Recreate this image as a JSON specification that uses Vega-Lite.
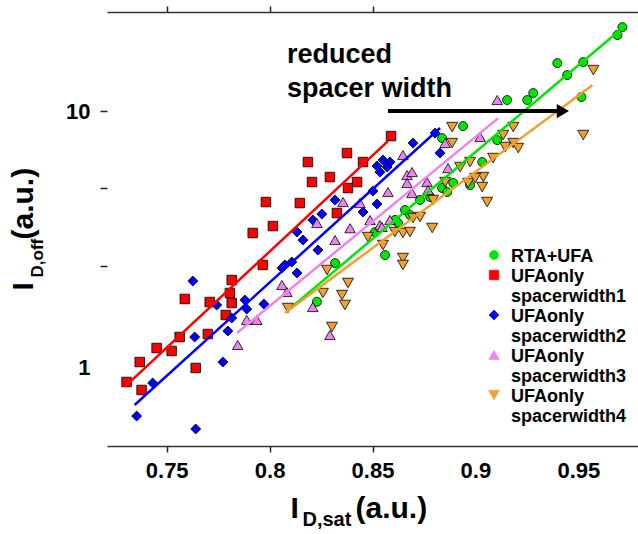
{
  "$schema": "https://vega.github.io/schema/vega-lite/v6.json",
  "width": 531,
  "height": 434,
  "autosize": {"type": "none"},
  "padding": {"left": 107, "top": 12, "right": 0, "bottom": 88},
  "background": "white",
  "config": {
    "view": {"stroke": null},
    "font": "Liberation Sans",
    "axis": {"grid": false, "labelFont": "Liberation Sans", "labelFontSize": 22, "labelFontWeight": "bold", "labelColor": "black", "titleFont": "Liberation Sans", "titleFontWeight": "bold", "titleColor": "black", "tickColor": "#222", "domainColor": "#333", "tickWidth": 1.5, "domainWidth": 1.5, "tickSize": 6}
  },
  "datasets": {
    "pts": [
      {"s": "RTA+UFA", "x": 0.9714, "y": 21.22}, {"s": "RTA+UFA", "x": 0.9690, "y": 19.76}, {"s": "RTA+UFA", "x": 0.9524, "y": 15.51}, {"s": "RTA+UFA", "x": 0.9398, "y": 15.37}, {"s": "RTA+UFA", "x": 0.9446, "y": 13.81}, {"s": "RTA+UFA", "x": 0.9281, "y": 11.75}, {"s": "RTA+UFA", "x": 0.9252, "y": 11.04}, {"s": "RTA+UFA", "x": 0.9154, "y": 11.04}, {"s": "RTA+UFA", "x": 0.9515, "y": 11.34}, {"s": "RTA+UFA", "x": 0.8940, "y": 8.74}, {"s": "RTA+UFA", "x": 0.8838, "y": 7.85}, {"s": "RTA+UFA", "x": 0.9106, "y": 7.71}, {"s": "RTA+UFA", "x": 0.9033, "y": 6.33}, {"s": "RTA+UFA", "x": 0.8974, "y": 5.15}, {"s": "RTA+UFA", "x": 0.8838, "y": 5.02}, {"s": "RTA+UFA", "x": 0.8863, "y": 4.84}, {"s": "RTA+UFA", "x": 0.8892, "y": 5.25}, {"s": "RTA+UFA", "x": 0.8658, "y": 4.12}, {"s": "RTA+UFA", "x": 0.8610, "y": 3.77}, {"s": "RTA+UFA", "x": 0.8624, "y": 3.67}, {"s": "RTA+UFA", "x": 0.8561, "y": 2.75}, {"s": "RTA+UFA", "x": 0.8318, "y": 2.56}, {"s": "RTA+UFA", "x": 0.8230, "y": 1.81}, {"s": "RTA+UFA", "x": 0.8731, "y": 4.51}, {"s": "RTA+UFA", "x": 0.8512, "y": 3.38}, {"s": "RTA+UFA", "x": 0.8780, "y": 4.63}, {"s": "RTA+UFA", "x": 0.8682, "y": 3.94},
      {"s": "UFAonly spacerwidth1", "x": 0.7305, "y": 0.882}, {"s": "UFAonly spacerwidth1", "x": 0.7378, "y": 0.821}, {"s": "UFAonly spacerwidth1", "x": 0.7369, "y": 1.055}, {"s": "UFAonly spacerwidth1", "x": 0.7451, "y": 1.196}, {"s": "UFAonly spacerwidth1", "x": 0.7524, "y": 1.165}, {"s": "UFAonly spacerwidth1", "x": 0.7563, "y": 1.32}, {"s": "UFAonly spacerwidth1", "x": 0.7641, "y": 1.0}, {"s": "UFAonly spacerwidth1", "x": 0.7588, "y": 1.856}, {"s": "UFAonly spacerwidth1", "x": 0.7700, "y": 1.356}, {"s": "UFAonly spacerwidth1", "x": 0.7709, "y": 1.806}, {"s": "UFAonly spacerwidth1", "x": 0.7816, "y": 2.2}, {"s": "UFAonly spacerwidth1", "x": 0.7807, "y": 1.958}, {"s": "UFAonly spacerwidth1", "x": 0.7816, "y": 1.79}, {"s": "UFAonly spacerwidth1", "x": 0.7787, "y": 1.608}, {"s": "UFAonly spacerwidth1", "x": 0.7967, "y": 2.517}, {"s": "UFAonly spacerwidth1", "x": 0.7918, "y": 3.352}, {"s": "UFAonly spacerwidth1", "x": 0.8016, "y": 3.568}, {"s": "UFAonly spacerwidth1", "x": 0.7982, "y": 4.425}, {"s": "UFAonly spacerwidth1", "x": 0.8147, "y": 4.385}, {"s": "UFAonly spacerwidth1", "x": 0.8206, "y": 5.293}, {"s": "UFAonly spacerwidth1", "x": 0.8293, "y": 5.536}, {"s": "UFAonly spacerwidth1", "x": 0.8186, "y": 6.333}, {"s": "UFAonly spacerwidth1", "x": 0.8381, "y": 5.016}, {"s": "UFAonly spacerwidth1", "x": 0.8425, "y": 5.293}, {"s": "UFAonly spacerwidth1", "x": 0.8376, "y": 6.864}, {"s": "UFAonly spacerwidth1", "x": 0.8454, "y": 6.333}, {"s": "UFAonly spacerwidth1", "x": 0.8590, "y": 7.993}, {"s": "UFAonly spacerwidth1", "x": 0.8327, "y": 4.01},
      {"s": "UFAonly spacerwidth2", "x": 0.7354, "y": 0.65}, {"s": "UFAonly spacerwidth2", "x": 0.7641, "y": 0.579}, {"s": "UFAonly spacerwidth2", "x": 0.7432, "y": 0.874}, {"s": "UFAonly spacerwidth2", "x": 0.7636, "y": 1.32}, {"s": "UFAonly spacerwidth2", "x": 0.7627, "y": 2.18}, {"s": "UFAonly spacerwidth2", "x": 0.7773, "y": 1.055}, {"s": "UFAonly spacerwidth2", "x": 0.7797, "y": 1.393}, {"s": "UFAonly spacerwidth2", "x": 0.7816, "y": 1.565}, {"s": "UFAonly spacerwidth2", "x": 0.7880, "y": 1.839}, {"s": "UFAonly spacerwidth2", "x": 0.7889, "y": 1.696}, {"s": "UFAonly spacerwidth2", "x": 0.7972, "y": 1.774}, {"s": "UFAonly spacerwidth2", "x": 0.8060, "y": 2.449}, {"s": "UFAonly spacerwidth2", "x": 0.8108, "y": 2.585}, {"s": "UFAonly spacerwidth2", "x": 0.8133, "y": 2.342}, {"s": "UFAonly spacerwidth2", "x": 0.8235, "y": 2.878}, {"s": "UFAonly spacerwidth2", "x": 0.7743, "y": 1.759}, {"s": "UFAonly spacerwidth2", "x": 0.8074, "y": 2.517}, {"s": "UFAonly spacerwidth2", "x": 0.8162, "y": 3.148}, {"s": "UFAonly spacerwidth2", "x": 0.8133, "y": 3.382}, {"s": "UFAonly spacerwidth2", "x": 0.8210, "y": 3.766}, {"s": "UFAonly spacerwidth2", "x": 0.8254, "y": 3.974}, {"s": "UFAonly spacerwidth2", "x": 0.8318, "y": 4.505}, {"s": "UFAonly spacerwidth2", "x": 0.8454, "y": 4.046}, {"s": "UFAonly spacerwidth2", "x": 0.8522, "y": 4.347}, {"s": "UFAonly spacerwidth2", "x": 0.8502, "y": 4.883}, {"s": "UFAonly spacerwidth2", "x": 0.8536, "y": 5.789}, {"s": "UFAonly spacerwidth2", "x": 0.8522, "y": 6.109}, {"s": "UFAonly spacerwidth2", "x": 0.8571, "y": 6.055}, {"s": "UFAonly spacerwidth2", "x": 0.8551, "y": 6.447}, {"s": "UFAonly spacerwidth2", "x": 0.8585, "y": 6.333}, {"s": "UFAonly spacerwidth2", "x": 0.8697, "y": 7.506}, {"s": "UFAonly spacerwidth2", "x": 0.8804, "y": 8.211}, {"s": "UFAonly spacerwidth2", "x": 0.8828, "y": 6.864},
      {"s": "UFAonly spacerwidth3", "x": 0.7845, "y": 1.229}, {"s": "UFAonly spacerwidth3", "x": 0.7889, "y": 1.538}, {"s": "UFAonly spacerwidth3", "x": 0.7938, "y": 1.538}, {"s": "UFAonly spacerwidth3", "x": 0.8060, "y": 2.104}, {"s": "UFAonly spacerwidth3", "x": 0.8084, "y": 1.976}, {"s": "UFAonly spacerwidth3", "x": 0.8210, "y": 1.727}, {"s": "UFAonly spacerwidth3", "x": 0.8293, "y": 1.344}, {"s": "UFAonly spacerwidth3", "x": 0.8230, "y": 3.666}, {"s": "UFAonly spacerwidth3", "x": 0.8318, "y": 3.148}, {"s": "UFAonly spacerwidth3", "x": 0.8357, "y": 4.425}, {"s": "UFAonly spacerwidth3", "x": 0.8439, "y": 4.385}, {"s": "UFAonly spacerwidth3", "x": 0.8391, "y": 3.5}, {"s": "UFAonly spacerwidth3", "x": 0.8488, "y": 3.766}, {"s": "UFAonly spacerwidth3", "x": 0.8536, "y": 3.601}, {"s": "UFAonly spacerwidth3", "x": 0.8575, "y": 4.84}, {"s": "UFAonly spacerwidth3", "x": 0.8648, "y": 6.743}, {"s": "UFAonly spacerwidth3", "x": 0.8668, "y": 5.636}, {"s": "UFAonly spacerwidth3", "x": 0.8692, "y": 5.789}, {"s": "UFAonly spacerwidth3", "x": 0.8668, "y": 5.246}, {"s": "UFAonly spacerwidth3", "x": 0.8692, "y": 4.797}, {"s": "UFAonly spacerwidth3", "x": 0.8765, "y": 5.293}, {"s": "UFAonly spacerwidth3", "x": 0.8770, "y": 4.927}, {"s": "UFAonly spacerwidth3", "x": 0.8585, "y": 3.766}, {"s": "UFAonly spacerwidth3", "x": 0.8546, "y": 3.538}, {"s": "UFAonly spacerwidth3", "x": 0.8867, "y": 6.0}, {"s": "UFAonly spacerwidth3", "x": 0.8853, "y": 7.506}, {"s": "UFAonly spacerwidth3", "x": 0.9023, "y": 7.922}, {"s": "UFAonly spacerwidth3", "x": 0.9106, "y": 11.04},
      {"s": "UFAonly spacerwidth4", "x": 0.9573, "y": 14.44}, {"s": "UFAonly spacerwidth4", "x": 0.9524, "y": 8.065}, {"s": "UFAonly spacerwidth4", "x": 0.9184, "y": 8.663}, {"s": "UFAonly spacerwidth4", "x": 0.9135, "y": 8.065}, {"s": "UFAonly spacerwidth4", "x": 0.9184, "y": 7.506}, {"s": "UFAonly spacerwidth4", "x": 0.9208, "y": 7.178}, {"s": "UFAonly spacerwidth4", "x": 0.9145, "y": 7.243}, {"s": "UFAonly spacerwidth4", "x": 0.9086, "y": 6.564}, {"s": "UFAonly spacerwidth4", "x": 0.8974, "y": 6.333}, {"s": "UFAonly spacerwidth4", "x": 0.8926, "y": 6.055}, {"s": "UFAonly spacerwidth4", "x": 0.9038, "y": 5.536}, {"s": "UFAonly spacerwidth4", "x": 0.8965, "y": 5.246}, {"s": "UFAonly spacerwidth4", "x": 0.8887, "y": 7.506}, {"s": "UFAonly spacerwidth4", "x": 0.8887, "y": 8.663}, {"s": "UFAonly spacerwidth4", "x": 0.8853, "y": 5.293}, {"s": "UFAonly spacerwidth4", "x": 0.8999, "y": 5.486}, {"s": "UFAonly spacerwidth4", "x": 0.9033, "y": 5.062}, {"s": "UFAonly spacerwidth4", "x": 0.9057, "y": 4.425}, {"s": "UFAonly spacerwidth4", "x": 0.8794, "y": 4.505}, {"s": "UFAonly spacerwidth4", "x": 0.8697, "y": 3.834}, {"s": "UFAonly spacerwidth4", "x": 0.8790, "y": 3.506}, {"s": "UFAonly spacerwidth4", "x": 0.8609, "y": 3.382}, {"s": "UFAonly spacerwidth4", "x": 0.8648, "y": 3.352}, {"s": "UFAonly spacerwidth4", "x": 0.8682, "y": 3.382}, {"s": "UFAonly spacerwidth4", "x": 0.8551, "y": 3.01}, {"s": "UFAonly spacerwidth4", "x": 0.8648, "y": 2.679}, {"s": "UFAonly spacerwidth4", "x": 0.8648, "y": 2.517}, {"s": "UFAonly spacerwidth4", "x": 0.8478, "y": 3.233}, {"s": "UFAonly spacerwidth4", "x": 0.8381, "y": 2.142}, {"s": "UFAonly spacerwidth4", "x": 0.8279, "y": 2.406}, {"s": "UFAonly spacerwidth4", "x": 0.8259, "y": 1.958}, {"s": "UFAonly spacerwidth4", "x": 0.8352, "y": 1.923}, {"s": "UFAonly spacerwidth4", "x": 0.8366, "y": 1.759}, {"s": "UFAonly spacerwidth4", "x": 0.8089, "y": 1.712}, {"s": "UFAonly spacerwidth4", "x": 0.8303, "y": 1.444}, {"s": "UFAonly spacerwidth4", "x": 0.8731, "y": 3.868}
    ],
    "fits": [
      {"s": "UFAonly spacerwidth1", "x": 0.7296, "y": 0.844}, {"s": "UFAonly spacerwidth1", "x": 0.8575, "y": 7.64},
      {"s": "UFAonly spacerwidth2", "x": 0.7344, "y": 0.718}, {"s": "UFAonly spacerwidth2", "x": 0.8828, "y": 8.59},
      {"s": "UFAonly spacerwidth3", "x": 0.7841, "y": 1.368}, {"s": "UFAonly spacerwidth3", "x": 0.9111, "y": 9.39},
      {"s": "RTA+UFA", "x": 0.8108, "y": 1.727}, {"s": "RTA+UFA", "x": 0.9719, "y": 21.2},
      {"s": "UFAonly spacerwidth4", "x": 0.8074, "y": 1.637}, {"s": "UFAonly spacerwidth4", "x": 0.9568, "y": 12.6}
    ],
    "arrow": [{"x": 0.8575, "x2": 0.9412, "xh": 0.9425, "y": 10.0}],
    "notes": [{"x": 0.8084, "y": 15.4, "t": "reduced"}, {"x": 0.8084, "y": 11.34, "t": "spacer width"}]
  },
  "resolve": {"axis": {"x": "independent", "y": "independent"}},
  "layer": [
    {
      "data": {"name": "pts"},
      "mark": {"type": "point", "filled": true, "opacity": 1, "stroke": "black", "strokeWidth": 0.8},
      "encoding": {
        "x": {"field": "x", "type": "quantitative", "scale": {"domain": [0.721, 0.979], "nice": false, "zero": false},
              "axis": {"orient": "top", "values": [0.75, 0.8, 0.85], "labels": false, "title": null, "tickSize": 6}},
        "y": {"field": "y", "type": "quantitative", "scale": {"type": "log", "domain": [0.497, 24.3], "nice": false},
              "axis": {"orient": "left", "title": "D,off", "ticks": false, "labels": false, "domain": false, "titleX": -65, "titleY": 265, "titleAngle": 270, "titleAlign": "left", "titleBaseline": "alphabetic", "titleFontSize": 17}},
        "color": {"field": "s", "type": "nominal",
                  "scale": {"domain": ["RTA+UFA", "UFAonly spacerwidth1", "UFAonly spacerwidth2", "UFAonly spacerwidth3", "UFAonly spacerwidth4"], "range": ["#00E600", "#FF0000", "#0000FF", "#EE82EE", "#F0A030"]},
                  "legend": {"orient": "none", "legendX": 378, "legendY": 234, "title": null, "padding": 0, "labelFont": "Liberation Sans", "labelFontSize": 18, "labelFontWeight": "bold", "labelColor": "black", "labelBaseline": "top", "labelOffset": 8, "labelLimit": 300, "symbolSize": 60, "symbolStrokeColor": "black", "symbolStrokeWidth": 0.6, "rowPadding": -1,
                             "labelExpr": "datum.label == 'RTA+UFA' ? datum.label : ['UFAonly', replace(datum.label, 'UFAonly ', '')]",
                             "encoding": {"labels": {"dy": {"value": -7}, "lineHeight": {"value": 20}}}}},
        "shape": {"field": "s", "type": "nominal",
                  "scale": {"domain": ["RTA+UFA", "UFAonly spacerwidth1", "UFAonly spacerwidth2", "UFAonly spacerwidth3", "UFAonly spacerwidth4"], "range": ["circle", "square", "diamond", "triangle-up", "triangle-down"]}},
        "size": {"field": "s", "type": "nominal",
                 "scale": {"domain": ["RTA+UFA", "UFAonly spacerwidth1", "UFAonly spacerwidth2", "UFAonly spacerwidth3", "UFAonly spacerwidth4"], "range": [81, 121, 169, 196, 196]}, "legend": null}
      }
    },
    {
      "data": {"name": "fits"},
      "mark": {"type": "line", "strokeWidth": 2.5},
      "encoding": {
        "x": {"field": "x", "type": "quantitative", "scale": {"domain": [0.721, 0.979], "nice": false, "zero": false},
              "axis": {"orient": "bottom", "values": [0.75, 0.8, 0.85, 0.9, 0.95], "format": ".2~f", "labelPadding": 8,
                       "tickOpacity": {"condition": {"test": "datum.value > 0.87", "value": 0}, "value": 1},
                       "title": "I", "titleX": 183, "titleY": 71, "titleAlign": "left", "titleBaseline": "alphabetic", "titleFontSize": 30}},
        "y": {"field": "y", "type": "quantitative", "scale": {"type": "log", "domain": [0.497, 24.3], "nice": false},
              "axis": {"orient": "left", "values": [1, 2.5, 5, 10], "format": "~g", "domain": false, "tickSize": 7, "labelPadding": 10,
                       "labelExpr": "datum.value == 1 || datum.value == 10 ? datum.label : ''",
                       "tickOpacity": {"condition": {"test": "datum.value == 1", "value": 0}, "value": 1},
                       "title": "I", "titleX": -75, "titleY": 278, "titleAngle": 270, "titleAlign": "left", "titleBaseline": "alphabetic", "titleFontSize": 30}},
        "color": {"field": "s", "type": "nominal",
                  "scale": {"domain": ["RTA+UFA", "UFAonly spacerwidth1", "UFAonly spacerwidth2", "UFAonly spacerwidth3", "UFAonly spacerwidth4"], "range": ["#00E600", "#FF0000", "#0000FF", "#EE82EE", "#F0A030"]},
                  "legend": null}
      }
    },
    {
      "data": {"name": "arrow"},
      "mark": {"type": "rule", "strokeWidth": 4, "color": "black"},
      "encoding": {
        "x": {"field": "x", "type": "quantitative", "scale": {"domain": [0.721, 0.979], "nice": false, "zero": false},
              "axis": {"orient": "bottom", "labels": false, "ticks": false, "domain": false, "title": "D,sat", "titleX": 195, "titleY": 79, "titleAlign": "left", "titleBaseline": "alphabetic", "titleFontSize": 20}},
        "x2": {"field": "x2"},
        "y": {"field": "y", "type": "quantitative", "scale": {"type": "log", "domain": [0.497, 24.3], "nice": false}, "axis": null}
      }
    },
    {
      "data": {"name": "arrow"},
      "mark": {"type": "point", "shape": "triangle-right", "filled": true, "color": "black", "size": 200, "opacity": 1},
      "encoding": {
        "x": {"field": "xh", "type": "quantitative", "scale": {"domain": [0.721, 0.979], "nice": false, "zero": false}, "axis": null},
        "y": {"field": "y", "type": "quantitative", "scale": {"type": "log", "domain": [0.497, 24.3], "nice": false}, "axis": null}
      }
    },
    {
      "data": {"name": "notes"},
      "mark": {"type": "text", "align": "left", "baseline": "alphabetic", "fontSize": 27, "fontWeight": "bold", "font": "Liberation Sans", "color": "black"},
      "encoding": {
        "x": {"field": "x", "type": "quantitative", "scale": {"domain": [0.721, 0.979], "nice": false, "zero": false},
              "axis": {"orient": "bottom", "labels": false, "ticks": false, "domain": false, "title": "(a.u.)", "titleX": 248, "titleY": 71, "titleAlign": "left", "titleBaseline": "alphabetic", "titleFontSize": 30}},
        "y": {"field": "y", "type": "quantitative", "scale": {"type": "log", "domain": [0.497, 24.3], "nice": false},
              "axis": {"orient": "left", "labels": false, "ticks": false, "domain": false, "title": "(a.u.)", "titleX": -75, "titleY": 227, "titleAngle": 270, "titleAlign": "left", "titleBaseline": "alphabetic", "titleFontSize": 30}},
        "text": {"field": "t"}
      }
    }
  ]
}
